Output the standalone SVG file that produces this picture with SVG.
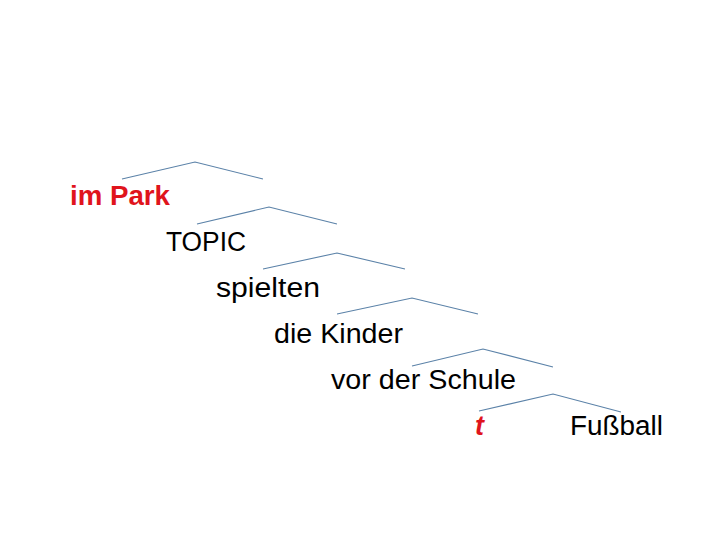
<svg xmlns="http://www.w3.org/2000/svg" width="720" height="540" viewBox="0 0 720 540">
<style>
.br{fill:none;stroke:#5b82a8;stroke-width:1.1}
.t{font-family:"Liberation Sans",Arial,sans-serif;font-size:27px;fill:#000}
.red{fill:#e0141c;font-weight:bold}
</style>
<rect width="720" height="540" fill="#fff"/>
<g id="connectors">
<polyline class="br" points="122,179 195,162 263,179"/>
<polyline class="br" points="197,224 269,207 337,224"/>
<polyline class="br" points="263,269 337,253 405,269"/>
<polyline class="br" points="337,314 412,298 478,314"/>
<polyline class="br" points="412,366 483,349 553,367"/>
<polyline class="br" points="479,411 553,394 621,412"/>
</g>
<g id="n1"><text class="t red" x="70" y="205" textLength="100" lengthAdjust="spacingAndGlyphs">im Park</text></g>
<g id="n2"><text class="t" x="166" y="251" textLength="80" lengthAdjust="spacingAndGlyphs">TOPIC</text></g>
<g id="n3"><text class="t" x="216" y="297" textLength="104" lengthAdjust="spacingAndGlyphs">spielten</text></g>
<g id="n4"><text class="t" x="274" y="343" textLength="129" lengthAdjust="spacingAndGlyphs">die Kinder</text></g>
<g id="n5"><text class="t" x="331" y="389" textLength="185" lengthAdjust="spacingAndGlyphs">vor der Schule</text></g>
<g id="n6"><text class="t red" x="475" y="435" font-style="italic">t</text></g>
<g id="n7"><text class="t" x="570" y="435" textLength="93" lengthAdjust="spacingAndGlyphs">Fußball</text></g>
</svg>
